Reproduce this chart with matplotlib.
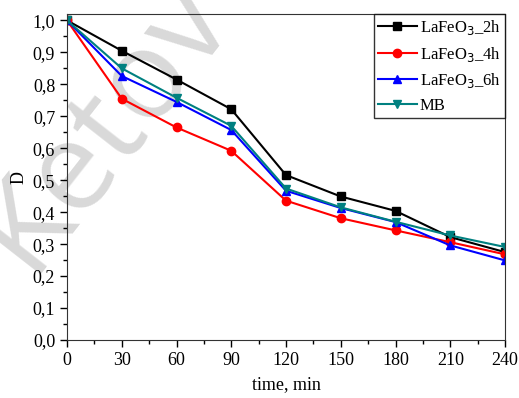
import numpy as np
import matplotlib
matplotlib.rc('font', family=['Liberation Serif', 'DejaVu Serif'], size=13)
import matplotlib.pyplot as plt
from matplotlib.ticker import MultipleLocator, FuncFormatter

time  = [0, 30, 60, 90, 120, 150, 180, 210, 240]
d_2h  = [1.0, 0.905, 0.815, 0.722, 0.516, 0.449, 0.404, 0.322, 0.275]
d_4h  = [1.0, 0.755, 0.665, 0.592, 0.436, 0.381, 0.343, 0.306, 0.268]
d_6h  = [1.0, 0.826, 0.745, 0.657, 0.467, 0.413, 0.369, 0.296, 0.249]
d_mb  = [1.0, 0.850, 0.758, 0.670, 0.474, 0.415, 0.370, 0.327, 0.291]

series = [
    (d_2h, r'LaFeO$_3$_2h', 'black', 's'),
    (d_4h, r'LaFeO$_3$_4h', 'red', 'o'),
    (d_6h, r'LaFeO$_3$_6h', 'blue', '^'),
    (d_mb, 'MB', '#008080', 'v'),
]

fig = plt.figure(figsize=(5.19, 3.98), dpi=100)
ax = fig.add_axes([67/519, 1-340/398, (505-67)/519, (340-14)/398])
ax.patch.set_alpha(0)

# watermark (partly off the canvas, as in the source image)
fig.text(105/519, 1-125/398, 'Ketov', fontsize=90, color='#d9d9d9',
         rotation=52, ha='center', va='center', family='Open Sans',
         zorder=-1)

for vals, lab, col, mk in series:
    ax.plot(time, vals, color=col, marker=mk, markersize=6, lw=1.5, label=lab)

ax.set_xlim(0, 240)
ax.set_ylim(0, 1.02)
ax.xaxis.set_major_locator(MultipleLocator(30))
ax.xaxis.set_minor_locator(MultipleLocator(15))
ax.yaxis.set_major_locator(MultipleLocator(0.1))
ax.yaxis.set_minor_locator(MultipleLocator(0.05))
ax.yaxis.set_major_formatter(FuncFormatter(lambda v, p: f'{v:.1f}'.replace('.', ',')))
ax.tick_params(which='both', direction='out', top=False, right=False, width=1)
ax.tick_params(which='major', length=5)
ax.tick_params(which='minor', length=3)
for s in ax.spines.values():
    s.set_color('#333333')
ax.set_xlabel('time, min', labelpad=5)
ax.set_ylabel('D')

leg = ax.legend(loc='upper right', bbox_to_anchor=(1.0, 1.0), frameon=True,
                fancybox=False, edgecolor='black', borderaxespad=0,
                handlelength=2.3, labelspacing=0.45, borderpad=0.25,
                handletextpad=0.2, fontsize=12)
leg.get_frame().set_linewidth(1)

fig.savefig('out.png', dpi=100)
